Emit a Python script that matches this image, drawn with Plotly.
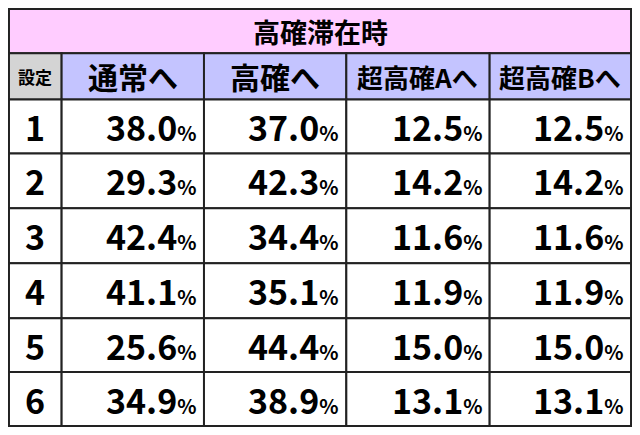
import plotly.graph_objects as go

title = "高確滞在時"
corner = "設定"
headers = ["通常へ", "高確へ", "超高確Aへ", "超高確Bへ"]
settings = ["1", "2", "3", "4", "5", "6"]
to_normal = [38.0, 29.3, 42.4, 41.1, 25.6, 34.9]
to_high = [37.0, 42.3, 34.4, 35.1, 44.4, 38.9]
to_super_a = [12.5, 14.2, 11.6, 11.9, 15.0, 13.1]
to_super_b = [12.5, 14.2, 11.6, 11.9, 15.0, 13.1]
columns = [to_normal, to_high, to_super_a, to_super_b]

W, H = 640, 435
col_x = [1, 55, 201, 347, 494, 639]
row_y = [1, 47, 95, 151, 208, 265, 322, 378, 434]
FONT = "Noto Sans CJK JP"

fig = go.Figure()
shapes = []
ann = []

# grid defined in reference pixels, placed in paper fractions
px = lambda x: x / W
py = lambda y: 1 - y / H

def cell(x0, x1, y0, y1, fill):
    shapes.append(dict(type="rect", x0=px(x0), x1=px(x1), y0=py(y1), y1=py(y0),
                       xref="paper", yref="paper",
                       fillcolor=fill, line=dict(color="#222222", width=2), layer="below"))

def text(x, y, s, size, anchor="center"):
    ann.append(dict(x=px(x), y=py(y), xref="paper", yref="paper", text=s, showarrow=False,
                    xanchor=anchor, yanchor="middle",
                    font=dict(family=FONT, size=size, color="black")))

# title row
cell(col_x[0], col_x[-1], row_y[0], row_y[1], "#ffccff")
text(W / 2, (row_y[0] + row_y[1]) / 2, "<b>" + title + "</b>", 27)

# header row
cell(col_x[0], col_x[1], row_y[1], row_y[2], "#d4d4d4")
text((col_x[0] + col_x[1]) / 2, (row_y[1] + row_y[2]) / 2, "<b>" + corner + "</b>", 17)
for j, h in enumerate(headers):
    cell(col_x[j + 1], col_x[j + 2], row_y[1], row_y[2], "#c4c4ff")
    text((col_x[j + 1] + col_x[j + 2]) / 2, (row_y[1] + row_y[2]) / 2,
         "<b>" + h + "</b>", 30 if j < 2 else 26)

# data rows
for i, s in enumerate(settings):
    y0, y1 = row_y[i + 2], row_y[i + 3]
    cy = (y0 + y1) / 2
    cell(col_x[0], col_x[1], y0, y1, "white")
    text((col_x[0] + col_x[1]) / 2, cy, "<b>" + s + "</b>", 34)
    for j, col in enumerate(columns):
        cell(col_x[j + 1], col_x[j + 2], y0, y1, "white")
        text(col_x[j + 2] - 5, cy,
             "<b>%.1f<span style='font-size:20px'>%%</span></b>" % col[i], 34, "right")

fig.update_layout(
    autosize=True, margin=dict(l=0, r=0, t=0, b=0),
    paper_bgcolor="white", plot_bgcolor="white",
    xaxis=dict(range=[0, 1], visible=False, fixedrange=True),
    yaxis=dict(range=[0, 1], visible=False, fixedrange=True),
    shapes=shapes, annotations=ann, showlegend=False,
)
fig.write_html("out.html", default_width="100%", default_height="100%")
